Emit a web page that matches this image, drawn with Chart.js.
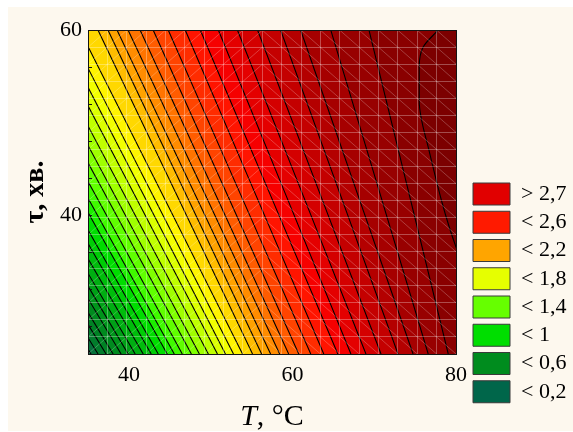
<!DOCTYPE html>
<html>
<head>
<meta charset="utf-8">
<script src="https://cdn.jsdelivr.net/npm/chart.js@4.4.1/dist/chart.umd.min.js"></script>
<style>
  html, body { margin: 0; padding: 0; background: #fff; }
  #wrap { position: absolute; left: 8px; top: 7px; width: 565px; height: 424px; background: #fdf8ee; }
</style>
</head>
<body>
<div id="wrap"><canvas id="contour" width="565" height="424"></canvas></div>
<script>
// contour levels, one line per level (z step 0.1)
const levels = [0.2, 0.3, 0.4, 0.5, 0.6, 0.7, 0.8, 0.9, 1.0, 1.1, 1.2, 1.3, 1.4, 1.5, 1.6, 1.7, 1.8, 1.9,
  2.0, 2.1, 2.2, 2.3, 2.4, 2.5, 2.6, 2.7, 2.8, 2.9, 3.0, 3.1, 3.2, 3.3, 3.4, 3.5, 3.6, 3.7];

const tauRows = [25, 42.5, 60];

// T (°C) of every contour line at tau = 25, 42.5 and 60 (left ones run past the axis)
const tBottom = [35.37, 36.23, 37.21, 38.07, 39.05, 39.91, 40.77, 41.75, 42.73, 43.59, 44.69, 45.55,
  46.53, 47.64, 48.62, 49.72, 50.83, 51.81, 52.79, 53.90, 55.12, 56.23, 57.33, 58.44,
  59.54, 60.77, 62.24, 63.83, 65.55, 67.15, 68.99, 70.83, 72.91, 74.75, 76.60, 79.05];
const tMiddle = [23.05, 24.03, 25.14, 26.12, 27.23, 28.21, 29.20, 30.30, 31.41, 32.39, 33.62, 34.60,
  35.71, 36.94, 38.05, 39.27, 40.51, 41.61, 42.72, 43.95, 45.68, 46.84, 47.95, 49.18,
  50.46, 51.88, 53.53, 55.37, 57.15, 59.05, 61.14, 63.29, 65.74, 67.88, 70.65, 74.21];
const tTop = [10.72, 11.83, 13.06, 14.17, 15.40, 16.51, 17.62, 18.85, 20.08, 21.19, 22.54, 23.65,
  24.88, 26.24, 27.47, 28.82, 30.18, 31.41, 32.64, 34.00, 36.23, 37.45, 38.56, 39.91,
  41.38, 42.98, 44.82, 46.90, 48.74, 50.95, 53.28, 55.74, 58.56, 61.01, 64.69, 69.36];

// the bent line in the top right corner
const capLevel = 3.8;
const capTau = [25, 36.2, 47, 52.4, 56, 58.2, 60];
const capT = [86, 80.15, 76.7, 75.5, 75.5, 76.0, 77.8];

const xTicks = [40, 60, 80];
const yTicks = [28, 32, 36, 40, 44, 48, 52, 56, 60];
const yLabelled = [40, 60];

// fitted surface mesh
const meshT = [37.37, 39.74, 42.11, 44.47, 46.84, 49.21, 51.58, 53.95, 56.32, 58.68,
  61.05, 63.42, 65.79, 68.16, 70.53, 72.89, 75.26, 77.63];
const meshTau = [26.84, 28.68, 30.53, 32.37, 34.21, 36.05, 37.89, 39.74, 41.58, 43.42,
  45.26, 47.11, 48.95, 50.79, 52.63, 54.47, 56.32, 58.16];

const legendText = ['> 2,7', '< 2,6', '< 2,2', '< 1,8', '< 1,4', '< 1', '< 0,6', '< 0,2'];
const legendColors = ['#e10000', '#ff1a00', '#ffa500', '#e6ff00', '#66ff00', '#00de00', '#008c1e', '#00664a'];

// fill of each band, from the one under the first line up to the one right of the bent line
const bandFill = ['#0b6646',
  '#06703a', '#027c2c', '#008224', '#008a1f', '#00941b', '#00a017', '#00ae12', '#00bc0c', '#00cc06', '#00dc00',
  '#1cee00', '#40fa00', '#60ff00', '#80ff00', '#a0ff00', '#c0ff00', '#dcff00', '#f2ff00', '#fff400', '#ffd800',
  '#ffbc00', '#ffa200', '#ff8c00', '#ff7400', '#ff5c00', '#ff4400', '#ff2c00', '#ff1400', '#f60000', '#e40000',
  '#d40000', '#c40000', '#b40000', '#a60000', '#980000', '#8a0000', '#7c0000'];

const serif = '"Times New Roman", "Liberation Serif", serif';
const meshColor = 'rgba(255,255,255,0.3)';
const diagColor = 'rgba(255,255,255,0.24)';
const frameColor = '#141414';
const plotRight = 448;
const legendLeft = 458.75;

const rows = [tBottom, tMiddle, tTop];
const datasets = levels.map((lv, k) => ({
  label: 'z = ' + lv,
  xAxisID: 'x',
  yAxisID: 'y',
  data: tauRows.map((tau, j) => ({ x: rows[j][k], y: tau })),
  borderColor: '#000',
  borderWidth: 1.1,
  pointRadius: 0,
  backgroundColor: bandFill[k + 1],
  fill: { value: 200 },
  order: levels.length + 1 - k
}));

datasets.push({
  label: 'z = ' + capLevel,
  xAxisID: 'x',
  yAxisID: 'y',
  data: capTau.map((tau, j) => ({ x: capT[j], y: tau })),
  borderColor: '#000',
  borderWidth: 1.1,
  pointRadius: 0,
  cubicInterpolationMode: 'monotone',
  backgroundColor: bandFill[levels.length + 1],
  fill: { value: 200 },
  order: 0
});

// diagonals of the mesh cells ("/" on the left part, "\" on the right part)
const gridT = [35].concat(meshT, [80]);
const gridTau = [25].concat(meshTau, [60]);
const diag = [];
for (let i = 0; i < gridT.length - 1; i++) {
  for (let j = 0; j < gridTau.length - 1; j++) {
    if (i < 9) {
      diag.push({ x: gridT[i], y: gridTau[j] }, { x: gridT[i + 1], y: gridTau[j + 1] });
    } else {
      diag.push({ x: gridT[i], y: gridTau[j + 1] }, { x: gridT[i + 1], y: gridTau[j] });
    }
    diag.push({ x: null, y: gridTau[j] });
  }
}
datasets.push({
  label: 'mesh',
  xAxisID: 'x',
  yAxisID: 'y',
  data: diag,
  borderColor: diagColor,
  borderWidth: 1,
  pointRadius: 0,
  fill: false,
  spanGaps: false,
  order: -1
});

// lowest band under everything
const baseBand = {
  id: 'baseBand',
  beforeDatasetsDraw(chart) {
    const { ctx, chartArea: a } = chart;
    ctx.save();
    ctx.fillStyle = bandFill[0];
    ctx.fillRect(a.left, a.top, a.right - a.left, a.bottom - a.top);
    ctx.restore();
  }
};

// legend sits a bit left of where the layout puts it, and may use the whole right margin
const legendSpot = {
  id: 'legendSpot',
  afterLayout(chart) {
    const lg = chart.legend;
    lg.left = legendLeft;
    lg.right = 565;
    lg.width = 565 - legendLeft;
  }
};

// x title with italic T
const xTitle = {
  id: 'xTitle',
  afterDraw(chart) {
    const { ctx, chartArea: a } = chart;
    const italic = 'italic 30px ' + serif;
    const normal = '30px ' + serif;
    ctx.save();
    ctx.font = italic;
    const w1 = ctx.measureText('T').width;
    ctx.font = normal;
    const w2 = ctx.measureText(', °C').width;
    const x = (a.left + a.right) / 2 - (w1 + w2) / 2;
    const y = 418;
    ctx.fillStyle = '#000';
    ctx.textBaseline = 'alphabetic';
    ctx.font = italic;
    ctx.fillText('T', x, y);
    ctx.font = normal;
    ctx.fillText(', °C', x + w1, y);
    ctx.restore();
  }
};

new Chart(document.getElementById('contour'), {
  type: 'line',
  data: { datasets },
  options: {
    indexAxis: 'y',
    responsive: false,
    animation: false,
    events: [],
    layout: { padding: { top: 23, bottom: 22, left: 0, right: 0 } },
    scales: {
      x: {
        type: 'linear', position: 'bottom', min: 35, max: 80,
        afterBuildTicks: s => { s.ticks = xTicks.map(v => ({ value: v })); },
        afterFit: s => { s.height = 55; },
        grid: { display: false, drawTicks: false },
        border: { display: true, color: frameColor, z: 2 },
        ticks: { color: '#000', padding: 8, font: { family: serif, size: 22 } }
      },
      y: {
        type: 'linear', position: 'left', min: 25, max: 60,
        afterBuildTicks: s => { s.ticks = yTicks.map(v => ({ value: v })); },
        afterFit: s => { s.width = 80; },
        // short ticks pointing into the plot
        grid: { display: true, drawOnChartArea: false, drawTicks: true, tickLength: -4, tickColor: frameColor, z: 2 },
        border: { display: true, color: frameColor, z: 2 },
        ticks: {
          color: '#000', padding: 10, font: { family: serif, size: 22 }, autoSkip: false,
          callback: v => (yLabelled.includes(v) ? String(v) : '')
        },
        title: {
          display: true, text: 'τ, хв.', color: '#000',
          font: { family: serif, size: 28, weight: 'bold' },
          padding: { top: 11, bottom: 0 }
        }
      },
      x2: {
        type: 'linear', position: 'top', min: 35, max: 80,
        afterBuildTicks: s => { s.ticks = meshT.map(v => ({ value: v })); },
        afterFit: s => { s.height = 0; },
        grid: { color: meshColor, drawTicks: false, z: 1 },
        border: { display: true, color: frameColor, z: 2 },
        ticks: { display: false }
      },
      y2: {
        type: 'linear', position: 'right', min: 25, max: 60,
        afterBuildTicks: s => { s.ticks = meshTau.map(v => ({ value: v })); },
        afterFit: s => { s.width = Math.max(0, 565 - s.chart.legend.width - plotRight); },
        grid: { color: meshColor, drawTicks: false, z: 1 },
        border: { display: true, color: frameColor, z: 2 },
        ticks: { display: false }
      }
    },
    plugins: {
      tooltip: { enabled: false },
      legend: {
        position: 'right',
        align: 'end',
        labels: {
          boxWidth: 37,
          boxHeight: 22,
          padding: 6.25,
          color: '#000',
          font: { family: serif, size: 22 },
          generateLabels: () => legendText.map((text, i) => ({
            text,
            fillStyle: legendColors[i],
            strokeStyle: '#3a3a3a',
            lineWidth: 1,
            hidden: false,
            datasetIndex: i
          }))
        }
      }
    }
  },
  plugins: [baseBand, legendSpot, xTitle]
});
</script>
</body>
</html>
